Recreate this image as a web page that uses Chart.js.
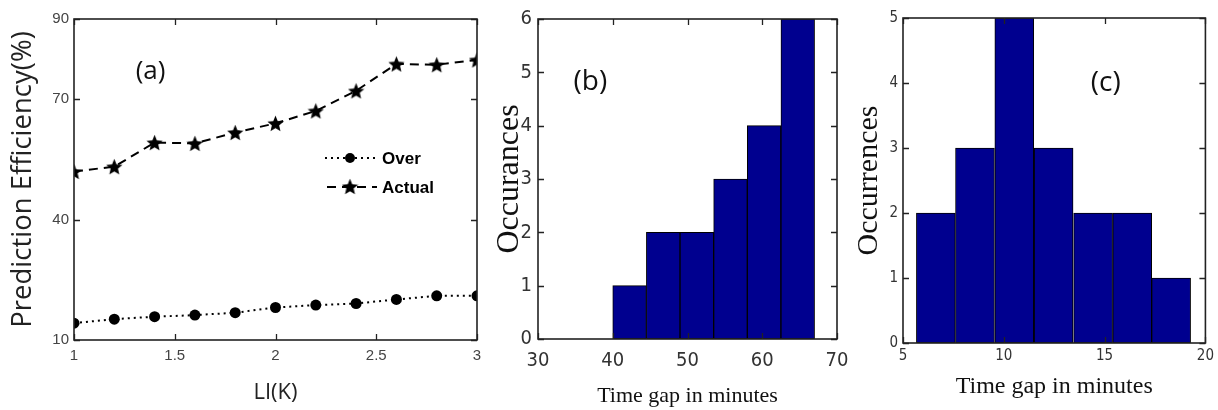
<!DOCTYPE html>
<html>
<head>
<meta charset="utf-8">
<script src="https://cdn.jsdelivr.net/npm/chart.js@4/dist/chart.umd.min.js"></script>
<style>
  html, body { margin: 0; padding: 0; background: #fff; }
  #wrap { position: relative; width: 1218px; height: 410px; overflow: hidden; }
  canvas { position: absolute; top: 0; }
</style>
</head>
<body>
<div id="wrap">
  <canvas id="chartA" width="490" height="410" style="left:0px"></canvas>
  <canvas id="chartC" width="368" height="410" style="left:850px"></canvas>
  <canvas id="chartB" width="375" height="410" style="left:490px"></canvas>
</div>
<script>
// panel (a)
const liK = [1, 1.2, 1.4, 1.6, 1.8, 2, 2.2, 2.4, 2.6, 2.8, 3];
const overEff = [14.2, 15.2, 15.8, 16.2, 16.8, 18.1, 18.7, 19.1, 20.1, 21.0, 21.0];
const actualEff = [52.0, 53.2, 59.2, 59.0, 61.7, 64.0, 67.1, 72.1, 78.8, 78.6, 79.8];
const aYTicks = [10, 40, 70, 90];

// panel (b)
const bBinCenters = [42.25, 46.75, 51.25, 55.75, 60.25, 64.75];
const bCounts = [1, 2, 2, 3, 4, 6];

// panel (c)
const cBinCenters = [6.63, 8.57, 10.52, 12.47, 14.43, 16.37, 18.3];
const cCounts = [2, 3, 5, 3, 2, 2, 1];

const NARROW = "'Liberation Sans Narrow', 'DejaVu Sans Condensed', 'Arial Narrow', sans-serif";
const SERIF = "'Liberation Serif', 'Times New Roman', serif";
const BAR_BLUE = '#00008f';

// filled five point star for the "Actual" markers
function makeStar(size) {
  const c = document.createElement('canvas');
  c.width = size; c.height = size;
  const g = c.getContext('2d');
  const cx = size / 2, cy = size / 2 + 0.8, R = size / 2, r = R * 0.45;
  g.beginPath();
  for (let i = 0; i < 10; i++) {
    const rad = i % 2 ? r : R;
    const ang = -Math.PI / 2 + i * Math.PI / 5;
    g.lineTo(cx + rad * Math.cos(ang), cy + rad * Math.sin(ang));
  }
  g.closePath();
  g.fillStyle = '#000';
  g.fill();
  return c;
}
const starImg = makeStar(17);

// MATLAB style box with inward ticks, plus the panel letter
const boxPlugin = {
  id: 'mbox',
  afterDatasetsDraw(chart, args, opts) {
    const {ctx, chartArea: a} = chart;
    const sx = chart.scales.x, sy = chart.scales.y;
    const L = opts.tick || 6;
    ctx.save();
    ctx.strokeStyle = '#222';
    ctx.lineWidth = 1.3;
    ctx.beginPath();
    sx.ticks.forEach(t => {
      const p = Math.round(sx.getPixelForValue(t.value)) + 0.5;
      ctx.moveTo(p, a.bottom); ctx.lineTo(p, a.bottom - L);
      ctx.moveTo(p, a.top); ctx.lineTo(p, a.top + L);
    });
    sy.ticks.forEach(t => {
      const p = Math.round(sy.getPixelForValue(t.value)) + 0.5;
      ctx.moveTo(a.left, p); ctx.lineTo(a.left + L, p);
      ctx.moveTo(a.right, p); ctx.lineTo(a.right - L, p);
    });
    ctx.stroke();
    ctx.lineWidth = 1.6;
    ctx.strokeRect(a.left, a.top, a.right - a.left, a.bottom - a.top);
    if (opts.label) {
      ctx.fillStyle = '#111';
      ctx.font = opts.labelFont;
      ctx.textAlign = 'center';
      ctx.textBaseline = 'middle';
      ctx.fillText(opts.label, sx.getPixelForValue(opts.lx), sy.getPixelForValue(opts.ly));
    }
    ctx.restore();
  }
};

// legend of panel (a), drawn with the same styles as the datasets
const legendA = {
  id: 'legA',
  afterDatasetsDraw(chart) {
    const {ctx} = chart;
    const rows = [
      {y: 158, text: 'Over', dash: [2, 4], marker: 'dot'},
      {y: 187, text: 'Actual', dash: [9, 6], marker: 'star'}
    ];
    ctx.save();
    rows.forEach(r => {
      ctx.strokeStyle = '#000';
      ctx.lineWidth = 2;
      ctx.setLineDash(r.dash);
      ctx.beginPath();
      ctx.moveTo(r.marker === 'dot' ? 325 : 327, r.y);
      ctx.lineTo(377, r.y);
      ctx.stroke();
      ctx.setLineDash([]);
      if (r.marker === 'dot') {
        ctx.beginPath();
        ctx.arc(350, r.y, 5, 0, Math.PI * 2);
        ctx.fillStyle = '#000';
        ctx.fill();
      } else {
        ctx.drawImage(starImg, 350 - 8.5, r.y - 9, 17, 17);
      }
      ctx.fillStyle = '#000';
      ctx.font = "bold 17px 'Liberation Sans', Arial, sans-serif";
      ctx.textAlign = 'left';
      ctx.textBaseline = 'middle';
      ctx.fillText(r.text, 382, r.y + 1);
    });
    ctx.restore();
  }
};

const pts = (xs, ys) => xs.map((x, i) => ({x: x, y: ys[i]}));

new Chart(document.getElementById('chartA'), {
  type: 'line',
  data: {
    datasets: [
      {
        label: 'Over',
        data: pts(liK, overEff),
        borderColor: '#000',
        backgroundColor: '#000',
        borderWidth: 2,
        borderDash: [2, 4],
        pointStyle: 'circle',
        pointRadius: 5.5,
        pointBorderWidth: 0
      },
      {
        label: 'Actual',
        data: pts(liK, actualEff),
        borderColor: '#000',
        backgroundColor: '#000',
        borderWidth: 2,
        borderDash: [9, 6],
        pointStyle: starImg
      }
    ]
  },
  options: {
    responsive: false,
    animation: false,
    layout: {padding: {top: 19, right: 13, left: 0, bottom: 0}},
    plugins: {
      legend: {display: false},
      tooltip: {enabled: false},
      mbox: {label: '(a)', lx: 1.38, ly: 76.8, labelFont: "26px 'Open Sans', sans-serif"}
    },
    scales: {
      x: {
        type: 'linear',
        min: 1, max: 3,
        grid: {display: false, drawTicks: false},
        border: {display: false},
        afterFit(s) { s.height = 70; },
        ticks: {stepSize: 0.5, padding: 7, color: '#444', callback: v => String(v),
                font: {family: "'Liberation Sans', Arial, sans-serif", size: 15}},
        title: {display: true, text: 'LI(K)', color: '#222', padding: {top: 0, bottom: 4},
                font: {family: "'Open Sans', sans-serif", size: 22, lineHeight: 1.2}}
      },
      y: {
        min: 10, max: 90,
        grid: {display: false, drawTicks: false},
        border: {display: false},
        afterFit(s) { s.width = 74; },
        afterBuildTicks(s) { s.ticks = aYTicks.map(v => ({value: v})); },
        ticks: {padding: 5, color: '#444', font: {family: "'Liberation Sans', Arial, sans-serif", size: 15}},
        title: {display: true, text: 'Prediction Efficiency(%)', color: '#222', padding: {top: 7, bottom: 0},
                font: {family: "'Open Sans', sans-serif", size: 27.5, lineHeight: 1.2}}
      }
    }
  },
  plugins: [boxPlugin, legendA]
});

function histChart(id, centers, counts, cfg) {
  return new Chart(document.getElementById(id), {
    type: 'bar',
    data: {
      datasets: [{
        data: pts(centers, counts),
        backgroundColor: BAR_BLUE,
        borderColor: '#000',
        borderWidth: 1,
        borderSkipped: false,
        barPercentage: 1,
        categoryPercentage: 1
      }]
    },
    options: {
      responsive: false,
      animation: false,
      layout: {padding: cfg.padding},
      plugins: {
        legend: {display: false},
        tooltip: {enabled: false},
        mbox: {label: cfg.label, lx: cfg.lx, ly: cfg.ly, labelFont: "28px 'Open Sans', sans-serif"}
      },
      scales: {
        x: {
          type: 'linear',
          offset: false,
          min: cfg.xMin, max: cfg.xMax,
          grid: {display: false, drawTicks: false},
          border: {display: false},
          afterFit(s) { s.height = cfg.xH; },
          ticks: {stepSize: cfg.xStep, padding: cfg.xPad, color: '#333', font: {family: NARROW, size: cfg.tickSize}},
          title: {display: true, text: 'Time gap in minutes', color: '#111', padding: {top: 0, bottom: cfg.xtPad},
                  font: {family: SERIF, size: cfg.xtSize, lineHeight: 1.2}}
        },
        y: {
          min: 0, max: cfg.yMax,
          grid: {display: false, drawTicks: false},
          border: {display: false},
          afterFit(s) { s.width = cfg.yW; },
          ticks: {stepSize: 1, padding: cfg.yPad, color: '#333', font: {family: NARROW, size: cfg.tickSize}},
          title: {display: true, text: cfg.yTitle, color: '#111', padding: {top: cfg.ytPad, bottom: 0},
                  font: {family: SERIF, size: cfg.ytSize, lineHeight: 1.0}}
        }
      }
    },
    plugins: [boxPlugin]
  });
}

histChart('chartB', bBinCenters, bCounts, {
  padding: {top: 19, right: 28, left: 0, bottom: 0},
  label: '(b)', lx: 37, ly: 4.82,
  xMin: 30, xMax: 70, xStep: 10, yMax: 6,
  xH: 71, yW: 48, xPad: 10, yPad: 6, tickSize: 20,
  xtPad: 1, xtSize: 22, ytPad: 4, ytSize: 32,
  yTitle: 'Occurances'
});

histChart('chartC', cBinCenters, cCounts, {
  padding: {top: 18, right: 8, left: 0, bottom: 0},
  label: '(c)', lx: 15.06, ly: 4.0,
  xMin: 5, xMax: 20, xStep: 5, yMax: 5,
  xH: 67, yW: 53, xPad: 4, yPad: 5, tickSize: 15,
  xtPad: 9, xtSize: 24, ytPad: 4, ytSize: 30,
  yTitle: 'Occurrences'
});
</script>
</body>
</html>
